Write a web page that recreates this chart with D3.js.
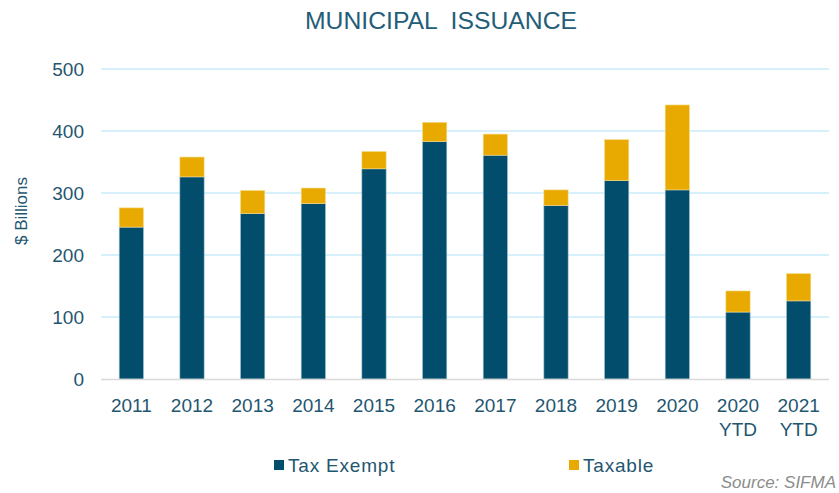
<!DOCTYPE html>
<html>
<head>
<meta charset="utf-8">
<script src="https://cdn.jsdelivr.net/npm/d3@7"></script>
<style>
  body { margin: 0; background: #fff; }
  svg { display: block; }
  text { font-family: "Liberation Sans", Arial, sans-serif; }
</style>
</head>
<body>
<svg id="chart" width="839" height="493"></svg>
<script>
const years = ["2011", "2012", "2013", "2014", "2015", "2016", "2017", "2018", "2019", "2020", "2020|YTD", "2021|YTD"];
const taxExempt = [245, 326, 267, 283, 339, 383, 361, 280, 320, 305, 108, 126];
const taxable = [31, 32, 37, 25, 28, 31, 34, 25, 66, 137, 34, 44];
const yTicks = [0, 100, 200, 300, 400, 500];

const blue = "#024d6c";
const gold = "#e8aa00";
const textColor = "#1f5670";

const margin = { top: 69, right: 10, bottom: 114, left: 101 };
const width = 839 - margin.left - margin.right;
const height = 493 - margin.top - margin.bottom;

const svg = d3.select("#chart");

// title
svg.append("text")
  .attr("x", 441)
  .attr("y", 29)
  .attr("text-anchor", "middle")
  .attr("font-size", 23)
  .attr("fill", "#235d77")
  .attr("textLength", 272)
  .attr("lengthAdjust", "spacingAndGlyphs")
  .style("white-space", "pre")
  .text("MUNICIPAL  ISSUANCE");

const g = svg.append("g")
  .attr("transform", `translate(${margin.left},${margin.top})`);

const x = d3.scaleBand()
  .domain(years)
  .range([0, width])
  .paddingInner(0.6)
  .paddingOuter(0.3);

const y = d3.scaleLinear()
  .domain([0, 500])
  .range([height, 0]);

// gridlines
g.selectAll("line.grid")
  .data(yTicks.filter(d => d > 0))
  .enter().append("line")
  .attr("class", "grid")
  .attr("x1", 0)
  .attr("x2", width)
  .attr("y1", d => y(d))
  .attr("y2", d => y(d))
  .attr("stroke", "#c9ecfb")
  .attr("stroke-width", 1.5);

// y axis labels
const yAxis = g.append("g")
  .call(d3.axisLeft(y).tickValues(yTicks).tickSize(0).tickPadding(17));
yAxis.select(".domain").remove();
yAxis.selectAll("text")
  .attr("font-size", 19)
  .attr("fill", textColor);

// stacked bars
const stackData = years.map((yr, i) => ({ year: yr, exempt: taxExempt[i], taxable: taxable[i] }));
const series = d3.stack().keys(["exempt", "taxable"])(stackData);
const colors = { exempt: blue, taxable: gold };

g.selectAll("g.series")
  .data(series)
  .enter().append("g")
  .attr("class", "series")
  .attr("fill", d => colors[d.key])
  .attr("stroke", d => d.key === "exempt" ? "#9fbfcf" : "#f6dc8a")
  .attr("stroke-width", 0.6)
  .selectAll("rect")
  .data(d => d)
  .enter().append("rect")
  .attr("x", d => x(d.data.year))
  .attr("y", d => y(d[1]))
  .attr("width", x.bandwidth())
  .attr("height", d => y(d[0]) - y(d[1]));

// baseline
g.append("line")
  .attr("x1", 0)
  .attr("x2", width)
  .attr("y1", height + 0.5)
  .attr("y2", height + 0.5)
  .attr("stroke", "#d9d9d9")
  .attr("stroke-width", 1.5);

// x axis labels
const xAxis = g.append("g")
  .attr("transform", `translate(0,${height})`)
  .call(d3.axisBottom(x).tickSize(0).tickPadding(0).tickFormat(""));
xAxis.select(".domain").remove();
xAxis.selectAll(".tick").each(function (d) {
  const lines = d.split("|");
  const t = d3.select(this).append("text")
    .attr("text-anchor", "middle")
    .attr("font-size", 19)
    .attr("fill", textColor);
  lines.forEach((l, i) => {
    t.append("tspan")
      .attr("x", 0)
      .attr("y", 33 + i * 23.5)
      .text(l);
  });
});

// y axis title
svg.append("text")
  .attr("transform", `translate(27,211) rotate(-90)`)
  .attr("text-anchor", "middle")
  .attr("font-size", 17)
  .attr("fill", textColor)
  .text("$ Billions");

// legend
const legendItems = [
  { label: "Tax Exempt", color: blue, x: 274 },
  { label: "Taxable", color: gold, x: 569 }
];
const legend = svg.selectAll("g.legend")
  .data(legendItems)
  .enter().append("g")
  .attr("class", "legend")
  .attr("transform", d => `translate(${d.x},460)`);
legend.append("rect")
  .attr("width", 10)
  .attr("height", 10)
  .attr("fill", d => d.color);
legend.append("text")
  .attr("x", 14)
  .attr("y", 11.5)
  .attr("font-size", 19)
  .attr("letter-spacing", 0.8)
  .attr("fill", textColor)
  .text(d => d.label);

// source
svg.append("text")
  .attr("x", 836)
  .attr("y", 488)
  .attr("text-anchor", "end")
  .attr("font-size", 17)
  .attr("font-style", "italic")
  .attr("fill", "#8c8c8c")
  .text("Source: SIFMA");
</script>
</body>
</html>
